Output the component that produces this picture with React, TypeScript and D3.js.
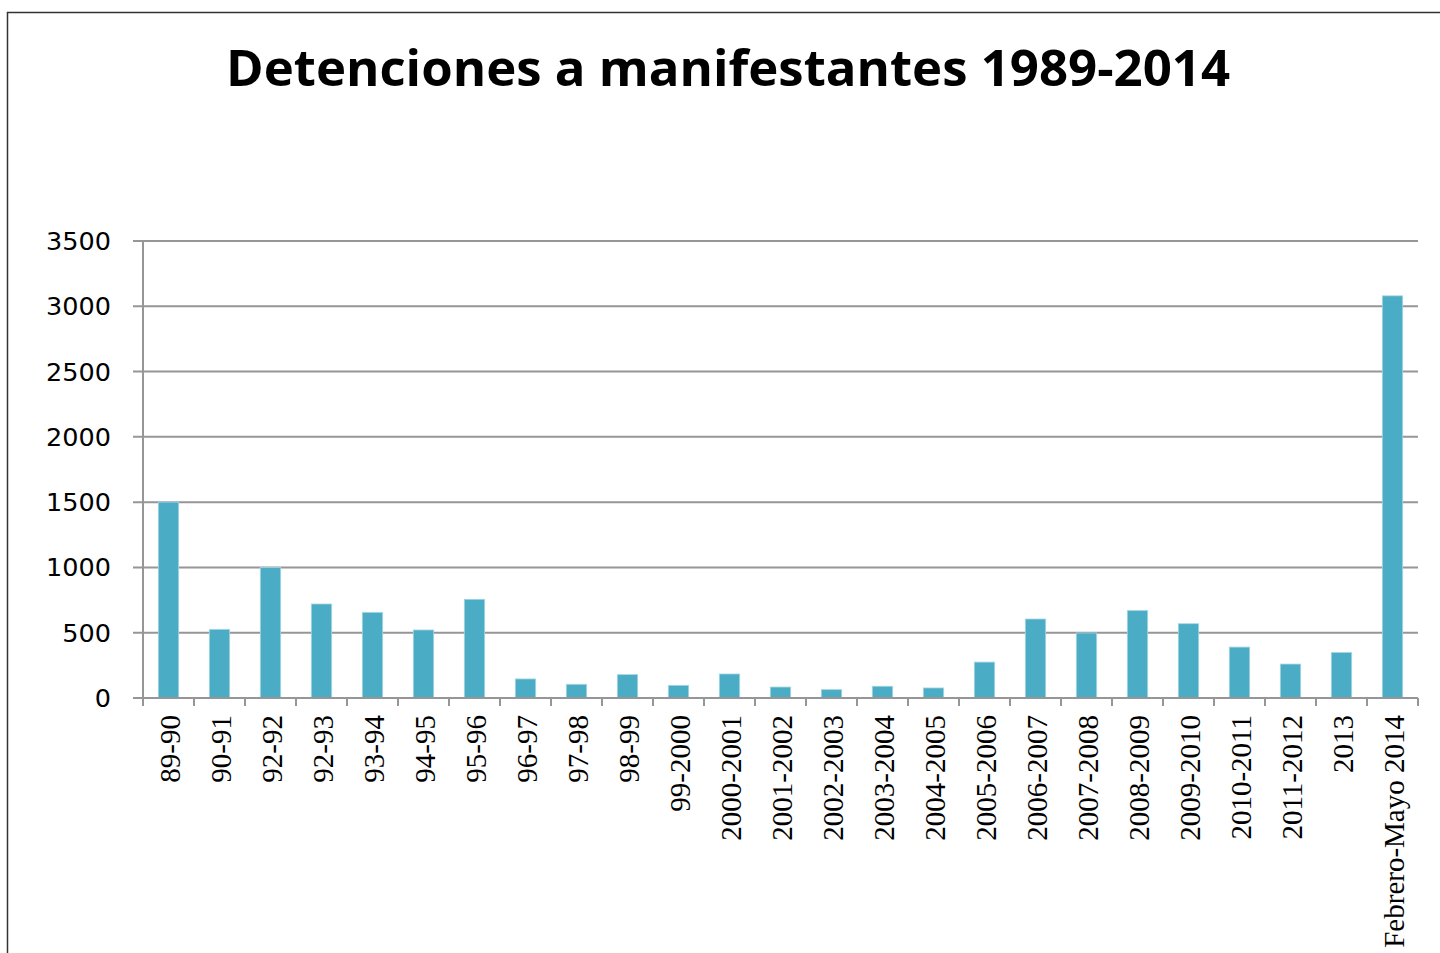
import React, { useEffect, useRef } from "react";
import * as d3 from "d3";

const categories = [
  "89-90", "90-91", "92-92", "92-93", "93-94", "94-95", "95-96", "96-97", "97-98", "98-99",
  "99-2000", "2000-2001", "2001-2002", "2002-2003", "2003-2004", "2004-2005", "2005-2006",
  "2006-2007", "2007-2008", "2008-2009", "2009-2010", "2010-2011", "2011-2012", "2013",
  "Febrero-Mayo 2014",
];
const values = [
  1500, 526, 1000, 720, 656, 521, 756, 146, 105, 179,
  97, 184, 84, 64, 90, 77, 275,
  605, 498, 670, 569, 390, 260, 349,
  3080,
];
const yTicks = [0, 500, 1000, 1500, 2000, 2500, 3000, 3500];
const title = "Detenciones a manifestantes 1989-2014";

export default function App() {
  const ref = useRef<SVGSVGElement>(null);
  useEffect(() => {
    const svg = d3.select(ref.current);
    svg.selectAll("*").remove();
    const W = 1440, H = 953;
    const left = 143, right = 1418, top = 241, bottom = 698;

    svg.append("rect").attr("width", W).attr("height", H).attr("fill", "#fff");
    svg.append("rect").attr("x", 7.5).attr("y", 12.5).attr("width", W + 20).attr("height", H + 20)
      .attr("fill", "none").attr("stroke", "#333").attr("stroke-width", 1.5);

    svg.append("text").attr("x", 728).attr("y", 86).attr("text-anchor", "middle")
      .attr("font-family", "'Open Sans', sans-serif").attr("font-weight", 700)
      .attr("font-size", 50).attr("fill", "#000")
      .attr("textLength", 1004).attr("lengthAdjust", "spacingAndGlyphs").text(title);

    const x = d3.scaleBand<string>().domain(categories).range([left, right]).paddingInner(0.6).paddingOuter(0.3);
    const y = d3.scaleLinear().domain([0, 3500]).range([bottom, top]);

    const g = svg.append("g");
    g.selectAll("line.grid").data(yTicks.filter(t => t > 0)).join("line")
      .attr("x1", left - 10).attr("x2", right).attr("y1", d => y(d)).attr("y2", d => y(d))
      .attr("stroke", "#969696").attr("stroke-width", 2);
    g.selectAll("text.yt").data(yTicks).join("text")
      .attr("x", 111).attr("y", d => y(d) + 9).attr("text-anchor", "end")
      .attr("font-family", "'DejaVu Sans', sans-serif").attr("font-size", 25.5).attr("fill", "#000")
      .text(d => String(d));

    g.selectAll("rect.bar").data(values).join("rect")
      .attr("x", (_, i) => x(categories[i])!)
      .attr("width", x.bandwidth())
      .attr("y", d => y(d)).attr("height", d => bottom - y(d))
      .attr("fill", "#4BACC6").attr("stroke", "#a9d6e3").attr("stroke-width", 0.8);

    g.append("line").attr("x1", left).attr("x2", left).attr("y1", top).attr("y2", bottom + 8)
      .attr("stroke", "#969696").attr("stroke-width", 2);
    g.append("line").attr("x1", left - 10).attr("x2", right).attr("y1", bottom).attr("y2", bottom)
      .attr("stroke", "#969696").attr("stroke-width", 2);
    const step = x.step();
    const tickXs = d3.range(categories.length + 1).map(i => left + i * step);
    g.selectAll("line.xt").data(tickXs).join("line")
      .attr("x1", d => d).attr("x2", d => d).attr("y1", bottom).attr("y2", bottom + 8)
      .attr("stroke", "#969696").attr("stroke-width", 2);

    g.selectAll("text.xl").data(categories).join("text")
      .attr("transform", d => `translate(${x(d)! + x.bandwidth() / 2 + 11},${bottom + 17}) rotate(-90)`)
      .attr("text-anchor", "end")
      .attr("font-family", "'Liberation Serif', 'Times New Roman', serif").attr("font-size", 29).attr("fill", "#000")
      .text(d => d);
  }, []);
  return (
    <svg ref={ref} width={1440} height={953} style={{ position: "absolute", left: 0, top: 0 }} />
  );
}
